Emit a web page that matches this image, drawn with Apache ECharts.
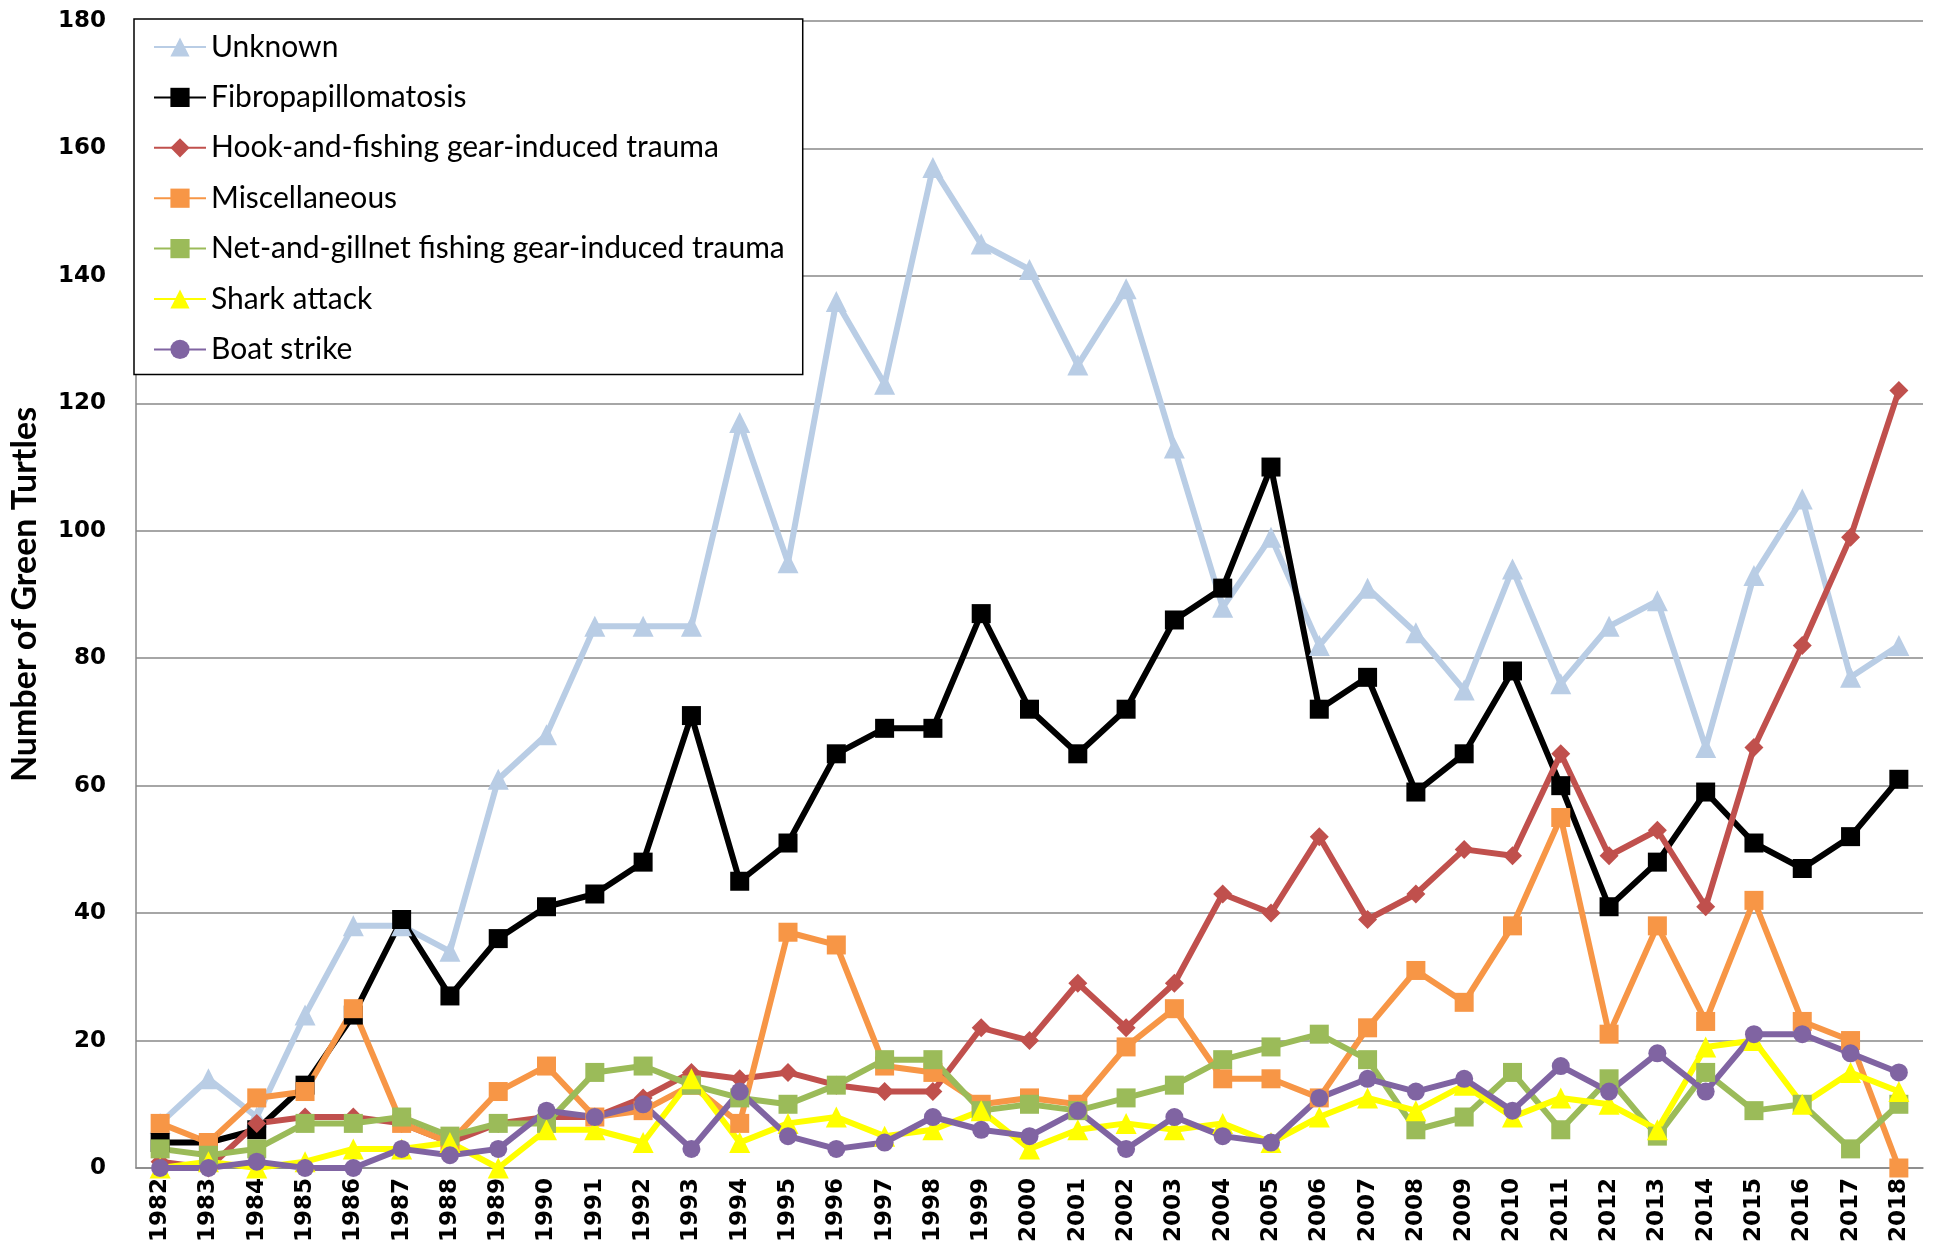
<!DOCTYPE html>
<html>
<head>
<meta charset="utf-8">
<script src="https://cdn.jsdelivr.net/npm/echarts@6/dist/echarts.min.js"></script>
<style>
  html, body { margin: 0; padding: 0; background: #fff; }
  #chart { width: 1939px; height: 1256px; }
</style>
</head>
<body>
<div id="chart"></div>
<script>
// years on the x axis
const years = [];
for (let y = 1982; y <= 2018; y++) years.push(String(y));

// stranding counts per cause
const unknown = [7, 14, 8, 24, 38, 38, 34, 61, 68, 85, 85, 85, 117, 95, 136, 123, 157, 145, 141, 126, 138, 113, 88, 99, 82, 91, 84, 75, 94, 76, 85, 89, 66, 93, 105, 77, 82];
const fibro = [4, 4, 6, 13, 24, 39, 27, 36, 41, 43, 48, 71, 45, 51, 65, 69, 69, 87, 72, 65, 72, 86, 91, 110, 72, 77, 59, 65, 78, 60, 41, 48, 59, 51, 47, 52, 61];
const hook = [1, 0, 7, 8, 8, 7, 4, 7, 8, 8, 11, 15, 14, 15, 13, 12, 12, 22, 20, 29, 22, 29, 43, 40, 52, 39, 43, 50, 49, 65, 49, 53, 41, 66, 82, 99, 122];
const misc = [7, 4, 11, 12, 25, 7, 4, 12, 16, 8, 9, 13, 7, 37, 35, 16, 15, 10, 11, 10, 19, 25, 14, 14, 11, 22, 31, 26, 38, 55, 21, 38, 23, 42, 23, 20, 0];
const net = [3, 2, 3, 7, 7, 8, 5, 7, 7, 15, 16, 13, 11, 10, 13, 17, 17, 9, 10, 9, 11, 13, 17, 19, 21, 17, 6, 8, 15, 6, 14, 5, 15, 9, 10, 3, 10];
const shark = [0, 1, 0, 1, 3, 3, 4, 0, 6, 6, 4, 14, 4, 7, 8, 5, 6, 9, 3, 6, 7, 6, 7, 4, 8, 11, 9, 13, 8, 11, 10, 6, 19, 20, 10, 15, 12];
const boat = [0, 0, 1, 0, 0, 3, 2, 3, 9, 8, 10, 3, 12, 5, 3, 4, 8, 6, 5, 9, 3, 8, 5, 4, 11, 14, 12, 14, 9, 16, 12, 18, 12, 21, 21, 18, 15];

const chart = echarts.init(document.getElementById('chart'));

function line(name, data, color, symbol, size) {
  return {
    name: name,
    type: 'line',
    data: data,
    symbol: symbol,
    symbolSize: size,
    itemStyle: { color: color },
    lineStyle: { color: color, width: 6 },
    animation: false
  };
}

chart.setOption({
  backgroundColor: '#fff',
  grid: { left: 134, right: 16, top: 21, bottom: 88 },
  legend: {
    orient: 'vertical',
    left: 134,
    top: 19,
    padding: [13, 18, 10, 19],
    itemGap: 20.4,
    itemWidth: 52,
    itemHeight: 24,
    backgroundColor: '#fff',
    borderColor: '#000',
    borderWidth: 1.5,
    textStyle: { fontFamily: 'Lato', fontSize: 30, lineHeight: 24, color: '#000' },
    data: ['Unknown', 'Fibropapillomatosis', 'Hook-and-fishing gear-induced trauma', 'Miscellaneous',
      'Net-and-gillnet fishing gear-induced trauma', 'Shark attack', 'Boat strike']
  },
  xAxis: {
    type: 'category',
    data: years,
    boundaryGap: true,
    axisLine: { lineStyle: { color: '#888', width: 1.5 } },
    axisTick: { show: false },
    axisLabel: {
      rotate: 90,
      interval: 0,
      margin: 10,
      color: '#000',
      fontFamily: 'DejaVu Sans',
      fontWeight: 'bold',
      fontSize: 23
    }
  },
  yAxis: {
    type: 'value',
    min: 0,
    max: 180,
    interval: 20,
    name: 'Number of Green Turtles',
    nameLocation: 'middle',
    nameGap: 94,
    nameTextStyle: { fontFamily: 'Lato', fontWeight: 'bold', fontSize: 34, color: '#000' },
    axisLine: { show: true, lineStyle: { color: '#888', width: 1.5 } },
    axisTick: { show: false },
    splitLine: { lineStyle: { color: '#888', width: 1.5 } },
    axisLabel: {
      margin: 30,
      color: '#000',
      fontFamily: 'DejaVu Sans',
      fontWeight: 'bold',
      fontSize: 23
    }
  },
  series: [
    line('Unknown', unknown, '#B9CDE5', 'triangle', 21),
    line('Fibropapillomatosis', fibro, '#000000', 'rect', 19),
    line('Hook-and-fishing gear-induced trauma', hook, '#C0504D', 'diamond', 19),
    line('Miscellaneous', misc, '#F79646', 'rect', 19),
    line('Net-and-gillnet fishing gear-induced trauma', net, '#9BBB59', 'rect', 19),
    line('Shark attack', shark, '#FFFF00', 'triangle', 21),
    line('Boat strike', boat, '#8064A2', 'circle', 18)
  ]
});
</script>
</body>
</html>
